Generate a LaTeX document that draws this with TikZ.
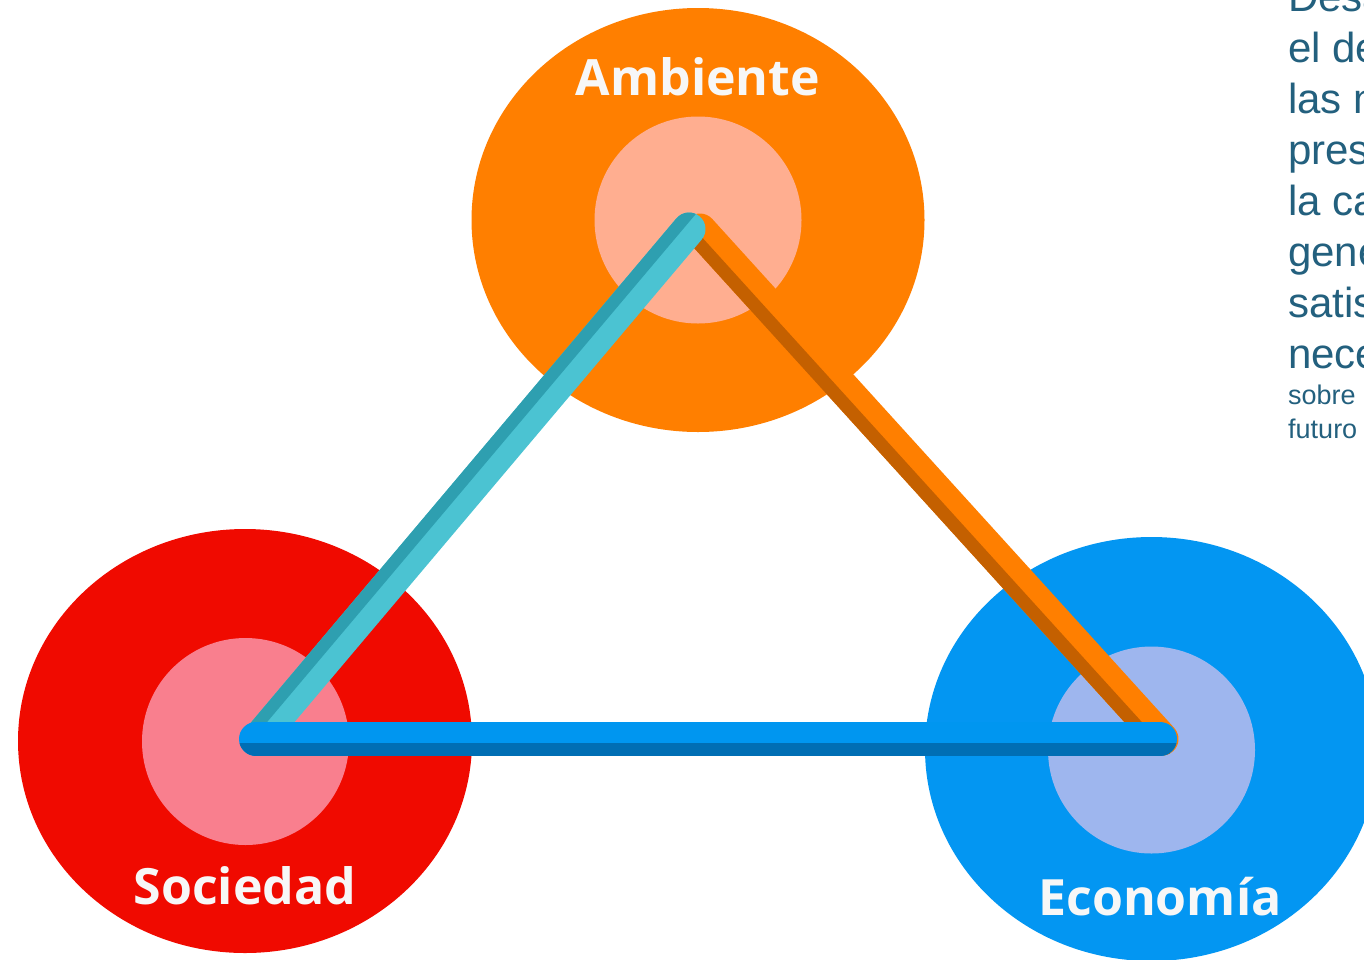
\documentclass[tikz,border=0pt]{standalone}
\usepackage{fontspec}
\setmainfont{Open Sans}
\newfontfamily\bodyfont{Liberation Sans}
\usetikzlibrary{shapes.geometric}
\definecolor{ambOut}{HTML}{FF7F00}
\definecolor{ambIn}{HTML}{FFAE90}
\definecolor{socOut}{HTML}{F00A00}
\definecolor{socIn}{HTML}{F97F8E}
\definecolor{ecoOut}{HTML}{0396F2}
\definecolor{ecoIn}{HTML}{9EB6EE}
\definecolor{cyanL}{HTML}{4BC3D2}
\definecolor{cyanD}{HTML}{2E9FB0}
\definecolor{orgL}{HTML}{FF7F00}
\definecolor{orgD}{HTML}{C46000}
\definecolor{bluL}{HTML}{0096F0}
\definecolor{bluD}{HTML}{006EB4}
\definecolor{txtc}{RGB}{35,96,126}
\definecolor{lblc}{HTML}{F7F7F7}
\tikzset{
  ringout/.style={ellipse, draw=none, inner sep=0pt, minimum width=453pt, minimum height=424pt},
  ringin/.style={circle, draw=none, inner sep=0pt, minimum size=207pt},
  barline/.style={line cap=round},
  captext/.style={font=\fontsize{50}{50}\selectfont\bfseries, text=lblc, anchor=base, inner sep=0pt},
  bodytext/.style={font=\bodyfont\fontsize{42}{51}\selectfont, text=txtc, anchor=base west, inner sep=0pt},
  smalltext/.style={font=\bodyfont\fontsize{27}{30}\selectfont, text=txtc, anchor=base west, inner sep=0pt}
}
\begin{document}
\begin{tikzpicture}[x=1pt,y=-1pt]
\useasboundingbox (0,0) rectangle (1364,959);
\clip (0,0) rectangle (1364,959);
\fill[white] (0,0) rectangle (1364,959);
% circles
\node[ringout, fill=ambOut] (ambo) at (698,220) {};
\node[ringin, fill=ambIn] (ambi) at (698,220) {};
\node[ringout, fill=socOut, minimum width=454pt] (soco) at (245,741) {};
\node[ringin, fill=socIn] (soci) at (245.5,741.5) {};
\node[ringout, fill=ecoOut] (ecoo) at (1151.5,749) {};
\node[ringin, fill=ecoIn] (ecoi) at (1151.5,750) {};
% bar end points
\coordinate (or1) at (700,230);
\coordinate (or2) at (1162,739);
\coordinate (cy1) at (262,735);
\coordinate (cy2) at (689,229);
\coordinate (bl1) at (256,739);
\coordinate (bl2) at (1160,739);
% orange bar
\draw[barline, line width=33pt, orgL] (or1) -- (or2);
\begin{scope}
\clip (670.6,202.7) -- (1186.3,771.0) -- (1141.8,811.3) -- (626.1,243.0) -- cycle;
\draw[barline, line width=33pt, orgD] (or1) -- (or2);
\end{scope}
% cyan bar
\draw[barline, line width=33pt, cyanL] (cy1) -- (cy2);
\begin{scope}
\clip (232.8,762.7) -- (711.4,195.5) -- (665.5,156.8) -- (186.9,724.0) -- cycle;
\draw[barline, line width=33pt, cyanD] (cy1) -- (cy2);
\end{scope}
% blue bar
\draw[barline, line width=34pt, bluL] (bl1) -- (bl2);
\begin{scope}
\clip (200,743.3) rectangle (1220,790);
\draw[barline, line width=34pt, bluD] (bl1) -- (bl2);
\end{scope}
% labels
\node[captext] (lamb) at (698,95) {Ambiente};
\node[captext] (lsoc) at (245,904) {Sociedad};
\node[captext] (leco) at (1160,915) {Economía};
% side text (cut by the page edge, as in the reference)
\node[bodytext] (t1) at (1288,11) {Desa};
\node[bodytext] (t2) at (1288,62) {el de};
\node[bodytext] (t3) at (1288,113) {las n};
\node[bodytext] (t4) at (1288,164) {pres};
\node[bodytext] (t5) at (1288,215) {la ca};
\node[bodytext] (t6) at (1288,266) {gene};
\node[bodytext] (t7) at (1288,317) {satis};
\node[bodytext] (t8) at (1288,368) {nece};
\node[smalltext] (t9) at (1288,404) {sobre};
\node[smalltext] (t10) at (1288,438) {futuro};
\end{tikzpicture}
\end{document}
